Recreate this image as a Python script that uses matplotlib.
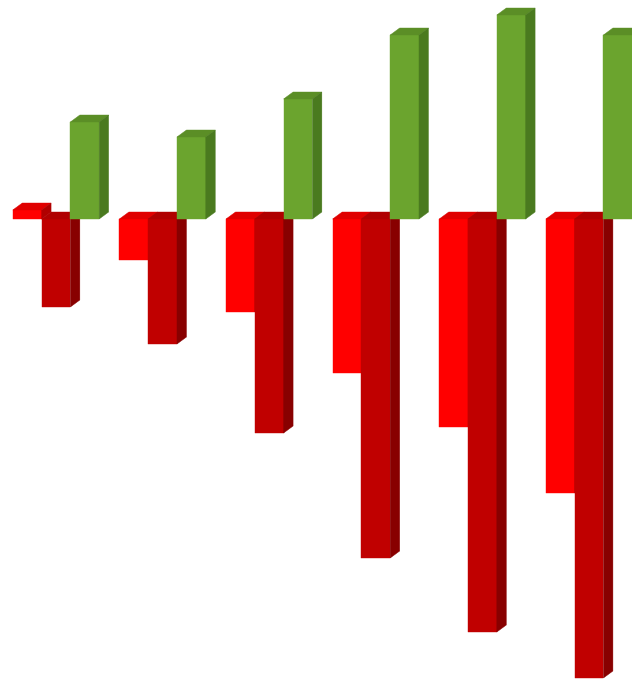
import matplotlib.pyplot as plt
import numpy as np

# values (baseline = 0, arbitrary units)
groups = ["1", "2", "3", "4", "5", "6"]
light_red = [9, -41, -93, -154, -208, -274]
dark_red = [-88, -125, -214, -339, -413, -459]
green = [97, 82, 120, 184, 204, 184]

series = [light_red, dark_red, green]
offsets = [-1, 0, 1]
# front, top, side colours
colours = [
    ("#FF0000", "#E00000", "#B00000"),
    ("#C00000", "#B00000", "#880000"),
    ("#6BA42E", "#5B8E26", "#4A7A1F"),
]

W = 0.27     # bar width (group units)
DX = 0.089   # depth offset, x
DY = 7       # depth offset, y


def bar3d(ax, x, v, cols):
    front, top, side = cols
    x0, x1 = x - W / 2, x + W / 2
    hi = max(v, 0)
    lo = min(v, 0)
    ax.bar(x, v, width=W, color=front, edgecolor=front, linewidth=0.3)
    # top face sits at the upper end of the bar
    ax.fill([x0, x1, x1 + DX, x0 + DX], [hi, hi, hi + DY, hi + DY],
            color=top, edgecolor=top, linewidth=0.3)
    # right side face
    ax.fill([x1, x1 + DX, x1 + DX, x1], [lo, lo + DY, hi + DY, hi],
            color=side, edgecolor=side, linewidth=0.3)


fig = plt.figure(figsize=(6.32, 6.79), dpi=100)
ax = fig.add_axes([0, 0, 1, 1])

xs = np.arange(len(groups))
for i in xs:
    for vals, off, cols in zip(series, offsets, colours):
        bar3d(ax, i + off * W, vals[i], cols)

ax.set_xlim(-0.525, 5.403)
ax.set_ylim(-460, 219)
ax.axis("off")

fig.savefig("out.png", dpi=100)
